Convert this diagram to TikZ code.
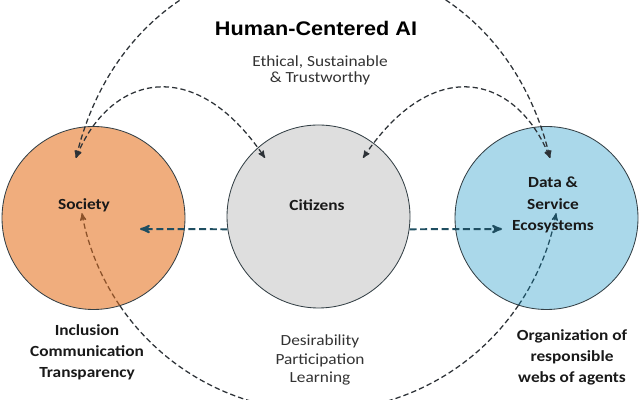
\documentclass[tikz,border=0pt]{standalone}
\usepackage{xcolor}
\usepackage{fontspec}
\setmainfont{Carlito}[FakeStretch=1.12]
\newfontfamily\titlefont{Liberation Sans}[FakeStretch=1.1]
\usepackage{tikz}
\usetikzlibrary{arrows, calc}
\definecolor{socfill}{RGB}{240,173,125}
\definecolor{citfill}{RGB}{222,222,222}
\definecolor{datfill}{RGB}{170,216,234}
\definecolor{rimcolor}{RGB}{52,64,70}
\definecolor{linkcolor}{RGB}{31,78,97}
\definecolor{arccolor}{RGB}{45,50,55}
\definecolor{browncolor}{RGB}{140,82,42}
\tikzset{
  sphere/.style={circle, draw=rimcolor, line width=0.6pt, fill=#1,
                 minimum size=4.575cm, inner sep=0pt},
  link/.style={-stealth', line width=1.4pt, draw=linkcolor,
               dash pattern=on 5pt off 2.6pt},
  arclink/.style={stealth'-stealth', line width=0.9pt, draw=arccolor,
                  dash pattern=on 3.8pt off 2.2pt},
  lowarc/.style={line width=0.9pt, dash pattern=on 3.8pt off 2.2pt},
  circlbl/.style={font=\fontsize{11}{15.5}\selectfont\bfseries, align=center,
                  text=black!90},
  notelbl/.style={font=\fontsize{11}{15}\selectfont\bfseries, align=center,
                  text=black!90},
  notelight/.style={font=\fontsize{11}{13.2}\selectfont, align=center,
                    text=black!80},
}

\begin{document}
\begin{tikzpicture}
  \clip (0,0) rectangle (16,10);

  % Circles
  \node[sphere=socfill] (soc) at (2.3375,4.55) {};
  \node[sphere=citfill] (cit) at (7.9625,4.5875) {};
  \node[sphere=datfill] (dat) at (13.6625,4.55) {};

  % Arc ends
  \coordinate (socTop) at (1.9,6.05);
  \coordinate (datTop) at (13.75,6.05);
  \coordinate (topApex) at (7.825,10.975);
  \coordinate (citTopL) at (6.625,6.05);
  \coordinate (citTopR) at (9.075,6.05);
  \coordinate (lowc) at (7.975,5.75);
  \coordinate (socLow) at ($(lowc)+(190.3:6.025)$);
  \coordinate (socOut) at ($(lowc)+(214.3:6.025)$);
  \coordinate (datOut) at ($(lowc)+(325.9:6.025)$);
  \coordinate (socIn) at (3.5,4.275);
  \coordinate (datIn) at (12.55,4.275);

  % Arcs over the top
  \draw[arclink] (socTop) to[out=76.5,in=180] (topApex)
    to[out=0,in=103.5] (datTop);
  \draw[arclink] (socTop) .. controls +(68:2.2) and +(124:3.2) .. (citTopL);
  \draw[arclink] (citTopR) .. controls +(56:3.2) and +(112:2.2) .. (datTop);

  % Arc underneath
  \draw[lowarc, draw=browncolor, stealth'-] (socLow)
    arc[start angle=190.3, end angle=214.3, radius=6.025];
  \draw[lowarc, draw=arccolor] (socOut)
    arc[start angle=214.3, end angle=325.9, radius=6.025];
  \draw[lowarc, draw=linkcolor, -stealth'] (datOut)
    arc[start angle=325.9, end angle=349.7, radius=6.025];

  % Citizens outwards
  \draw[link] (cit.188) -- (socIn);
  \draw[link] (cit.-8) -- (datIn);

  % Texts
  \node[font=\titlefont\bfseries\fontsize{14}{16}\selectfont] (title)
    at (7.9,9.3) {Human-Centered AI};
  \node[notelight, font=\fontsize{11}{11.5}\selectfont] (motto)
    at (8.0,8.25) {Ethical, Sustainable\\\& Trustworthy};

  \node[circlbl] (socLbl) at (2.1,4.875) {Society};
  \node[circlbl] (citLbl) at (7.925,4.875) {Citizens};
  \node[circlbl] (datLbl) at (13.825,4.875) {Data \&\\Service\\Ecosystems};

  \node[notelbl] (socNote) at (2.175,1.2)
    {Inclusion\\Communication\\Transparency};
  \node[notelight] (citNote) at (8.0,1.0)
    {Desirability\\Participation\\Learning};
  \node[notelbl] (datNote) at (14.3,1.075)
    {Organization of\\responsible\\webs of agents};
\end{tikzpicture}
\end{document}
